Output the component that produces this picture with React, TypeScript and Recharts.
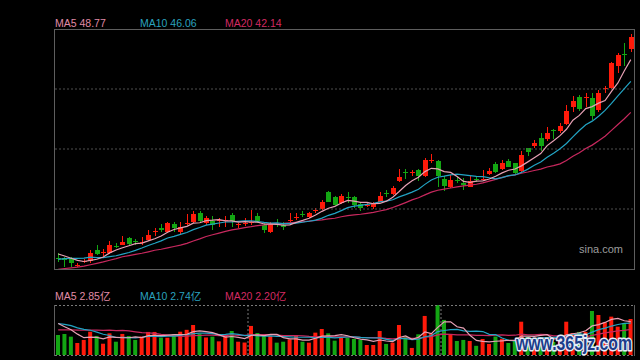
import React from 'react';
import { ComposedChart, Bar, Line, XAxis, YAxis, ReferenceLine, Cell } from 'recharts';

// ---- price data (90 trading days) ----
const opens = [23.91,23.88,23.71,22.88,23.44,23.50,24.88,24.54,24.46,25.41,25.50,26.38,26.00,25.80,26.13,27.13,27.63,27.16,28.13,27.09,28.13,28.34,29.54,28.21,28.54,28.50,28.50,29.25,28.09,28.18,28.25,29.13,28.00,27.16,28.16,28.00,28.59,28.93,29.41,28.96,29.75,29.96,32.16,31.46,30.71,31.50,31.46,30.63,30.46,30.21,30.91,32.00,31.88,33.50,34.58,34.50,34.88,34.13,36.00,36.04,33.71,32.79,33.66,33.29,32.79,33.75,33.68,34.38,35.63,35.00,36.04,35.71,34.79,37.59,37.88,38.84,38.71,39.83,39.79,40.63,42.71,43.96,43.93,43.84,42.38,45.05,45.09,47.88,49.38,49.96];
const closes = [23.84,23.63,23.21,22.94,23.56,24.50,24.38,24.63,25.50,25.34,25.91,25.63,25.93,25.88,26.75,27.20,27.38,28.25,27.59,27.75,28.20,29.34,28.54,28.91,28.00,28.58,28.58,28.54,28.16,28.25,28.33,28.50,27.38,28.13,28.09,27.79,28.66,29.00,29.34,29.46,29.83,30.91,30.91,30.50,31.63,31.43,30.50,30.09,30.54,30.71,31.63,31.93,32.59,34.04,34.50,34.58,34.13,36.13,36.08,34.13,32.88,33.63,33.59,33.00,33.54,33.68,33.75,34.79,34.66,35.71,35.29,34.54,36.75,37.16,38.29,37.88,39.54,39.75,40.38,42.29,43.54,42.54,44.00,41.63,44.46,45.13,48.29,49.25,49.25,51.46];
const highs = [24.54,24.04,24.04,23.29,23.79,24.88,25.50,24.96,26.04,25.79,26.63,26.54,26.29,26.46,27.38,27.59,28.13,28.41,28.41,28.41,29.38,29.79,29.75,29.13,29.13,28.84,29.13,29.46,28.29,28.84,29.88,29.46,28.41,28.41,28.71,28.41,29.50,29.50,29.75,29.63,30.13,31.13,32.25,31.63,31.88,32.16,31.63,30.75,30.91,30.88,32.13,32.38,32.88,34.96,35.00,34.88,34.95,36.38,36.88,36.13,34.13,34.25,34.00,33.88,34.13,34.04,34.88,35.09,35.91,36.13,36.21,35.79,37.29,37.66,38.63,39.54,40.21,39.96,40.71,43.00,44.13,44.25,44.54,44.54,44.88,45.38,48.41,49.46,50.79,51.88];
const lows = [23.41,22.71,22.79,22.71,23.21,23.29,24.25,24.16,24.38,25.09,25.44,25.50,25.50,25.50,26.04,26.63,27.16,27.04,27.13,26.75,28.00,28.21,28.41,28.00,27.38,27.79,27.71,27.79,27.59,27.88,28.00,28.29,27.04,26.96,27.71,27.38,28.38,28.63,29.00,28.88,29.50,29.88,30.88,30.38,30.63,30.71,30.13,29.75,30.21,30.00,30.88,31.50,31.75,33.41,33.75,34.13,33.50,34.00,35.75,32.79,32.25,32.63,33.25,32.38,32.75,33.41,33.63,34.25,34.46,34.88,35.21,34.38,34.66,36.63,37.59,37.25,38.54,38.71,39.54,40.50,42.16,42.29,42.71,41.13,42.16,44.46,45.00,46.96,47.88,49.66];
// closes before the visible window (estimated from where the MA lines start)
const priorCloses = [21.6,21.5,21.3,21.1,21.0,20.9,21.0,21.2,21.3,21.2,22.8,22.9,23.0,23.2,23.3,24.9,24.6,24.3,24.26];

// ---- volume (亿) ----
const volumes = [1.70,1.79,1.56,1.02,1.28,1.98,1.62,0.96,1.84,1.13,1.79,1.62,1.28,1.57,1.96,1.96,1.47,1.47,1.76,1.98,2.14,2.55,1.79,1.49,1.56,1.16,1.62,2.04,1.13,1.06,2.47,1.87,1.70,1.66,1.05,1.13,1.33,1.70,1.13,1.05,1.90,2.21,1.84,1.22,1.47,1.45,1.36,1.28,0.85,0.85,2.04,0.94,1.05,2.55,1.56,0.60,1.76,3.32,1.83,4.25,2.98,1.74,1.19,1.28,1.19,0.78,1.36,0.94,1.57,1.38,1.02,1.28,2.83,1.53,1.28,1.45,1.53,1.11,1.70,2.83,1.87,1.96,1.96,3.74,3.40,2.78,3.26,2.41,2.69,3.06];
const priorVolumes = [1.5,1.7,1.4,1.6,1.8,1.5,1.6,1.4,1.7,1.6,2.5,2.7,2.9,2.6,2.7,3.2,2.8,2.9,2.8];

const priceLegend = [
  { label: 'MA5 48.77', color: '#e08ba6' },
  { label: 'MA10 46.06', color: '#2aa2bf' },
  { label: 'MA20 42.14', color: '#d42a62' },
];
const volumeLegend = [
  { label: 'MA5 2.85亿', color: '#e08ba6' },
  { label: 'MA10 2.74亿', color: '#2aa2bf' },
  { label: 'MA20 2.20亿', color: '#d42a62' },
];
const priceGrid = [30, 37.5, 45];
const monthBreaks = [29, 59];

const RED = '#ff1a0a';
const GREEN = '#13a613';
const MA5C = '#e6a0b4';
const MA10C = '#22a4c4';
const MA20C = '#c8285e';

function movingAverage(values: number[], prior: number[], n: number) {
  const all = prior.concat(values);
  return values.map((_, i) => {
    const end = prior.length + i + 1;
    const s = all.slice(Math.max(0, end - n), end);
    return s.reduce((a, b) => a + b, 0) / s.length;
  });
}

const ma5 = movingAverage(closes, priorCloses, 5);
const ma10 = movingAverage(closes, priorCloses, 10);
const ma20 = movingAverage(closes, priorCloses, 20);
const vma5 = movingAverage(volumes, priorVolumes, 5);
const vma10 = movingAverage(volumes, priorVolumes, 10);
const vma20 = movingAverage(volumes, priorVolumes, 20);

const data = closes.map((c, i) => ({
  i,
  open: opens[i],
  high: highs[i],
  low: lows[i],
  close: c,
  range: [lows[i], highs[i]],
  ma5: ma5[i],
  ma10: ma10[i],
  ma20: ma20[i],
  vol: volumes[i],
  vma5: vma5[i],
  vma10: vma10[i],
  vma20: vma20[i],
}));

const Candle = (props: any) => {
  const { x, y, width, height, payload } = props;
  if (!payload) return null;
  const { open, close, high, low } = payload;
  const up = close >= open;
  const color = up ? RED : GREEN;
  const top = Math.min(y, y + height);
  const h = Math.abs(height);
  const span = high - low;
  const ratio = span > 0 ? h / span : 0;
  const yOf = (v: number) => top + (high - v) * ratio;
  const bTop = Math.round(yOf(Math.max(open, close)));
  const bBot = Math.round(yOf(Math.min(open, close)));
  const bh = Math.max(1, bBot - bTop);
  const bx = Math.round(x + width / 2 - 2.5);
  return (
    <g>
      <line x1={bx + 2.5} x2={bx + 2.5} y1={Math.round(top)} y2={Math.round(top + h)} stroke={color} strokeWidth={1} />
      <rect x={bx} y={bTop} width={5} height={bh} fill={color} />
    </g>
  );
};

const font = '"Liberation Sans", Arial, "Noto Sans CJK SC", sans-serif';

export default function App() {
  return (
    <div style={{ position: 'absolute', left: 0, top: 0, width: 640, height: 360, background: '#000', overflow: 'hidden' }}>
      <div style={{ position: 'absolute', left: 0, top: 0 }}>
        <ComposedChart width={640} height={275} data={data} margin={{ top: 29, right: 6, bottom: 6, left: 55 }}>
          <XAxis dataKey="i" hide />
          <YAxis hide domain={[22.5, 52.5]} allowDataOverflow />
          {priceGrid.map((g) => (
            <ReferenceLine key={g} y={g} stroke="#4e4e4e" strokeDasharray="2 2" />
          ))}
          <Bar dataKey="range" barSize={5} isAnimationActive={false} shape={(p: any) => <Candle {...p} />} />
          <Line dataKey="ma20" stroke={MA20C} dot={false} strokeWidth={1.2} isAnimationActive={false} />
          <Line dataKey="ma10" stroke={MA10C} dot={false} strokeWidth={1.2} isAnimationActive={false} />
          <Line dataKey="ma5" stroke={MA5C} dot={false} strokeWidth={1.2} isAnimationActive={false} />
        </ComposedChart>
      </div>
      <div style={{ position: 'absolute', left: 0, top: 280 }}>
        <ComposedChart width={640} height={80} data={data} margin={{ top: 25, right: 6, bottom: 5, left: 55 }}>
          <XAxis dataKey="i" hide />
          <YAxis hide domain={[0, 4.25]} allowDataOverflow />
          {monthBreaks.map((m) => (
            <ReferenceLine key={m} x={m} position="end" stroke="#7a7a7a" strokeDasharray="2 2" />
          ))}
          <Bar dataKey="vol" barSize={4} isAnimationActive={false}>
            {data.map((d) => (
              <Cell key={d.i} fill={d.close >= d.open ? RED : GREEN} />
            ))}
          </Bar>
          <Line dataKey="vma20" stroke={MA20C} dot={false} strokeWidth={1.2} isAnimationActive={false} />
          <Line dataKey="vma10" stroke={MA10C} dot={false} strokeWidth={1.2} isAnimationActive={false} />
          <Line dataKey="vma5" stroke={MA5C} dot={false} strokeWidth={1.2} isAnimationActive={false} />
        </ComposedChart>
      </div>
      <svg width={640} height={360} style={{ position: 'absolute', left: 0, top: 0, pointerEvents: 'none' }}>
        <rect x={54.5} y={29.5} width={580} height={240} fill="none" stroke="#5e5e5e" />
        <line x1={54.5} x2={54.5} y1={305} y2={356} stroke="#5e5e5e" />
        <line x1={634.5} x2={634.5} y1={305} y2={356} stroke="#5e5e5e" />
        <line x1={55} x2={634} y1={305.5} y2={305.5} stroke="#7a7a7a" strokeDasharray="2 2" />
        <line x1={55} x2={634} y1={355.5} y2={355.5} stroke="#7a7a7a" strokeDasharray="2 2" />
        {priceLegend.map((l, k) => (
          <text key={l.label} x={55 + k * 85} y={27} fill={l.color} fontSize={10.5} fontFamily={font}>{l.label}</text>
        ))}
        {volumeLegend.map((l, k) => (
          <text key={l.label} x={55 + k * 85} y={300} fill={l.color} fontSize={10.5} fontFamily={font}>{l.label}</text>
        ))}
        <text x={623} y={253} textAnchor="end" fill="#9c9c9c" fontSize={11} fontFamily={font}>sina.com</text>
        <text x={516} y={350} fill="#1c3c8a" stroke="#e4ecf8" strokeWidth={3} paintOrder="stroke" strokeLinejoin="round"
          fontSize={20} fontWeight="bold" fontFamily={font} textLength={116} lengthAdjust="spacingAndGlyphs">www.365jz.com</text>
      </svg>
    </div>
  );
}
